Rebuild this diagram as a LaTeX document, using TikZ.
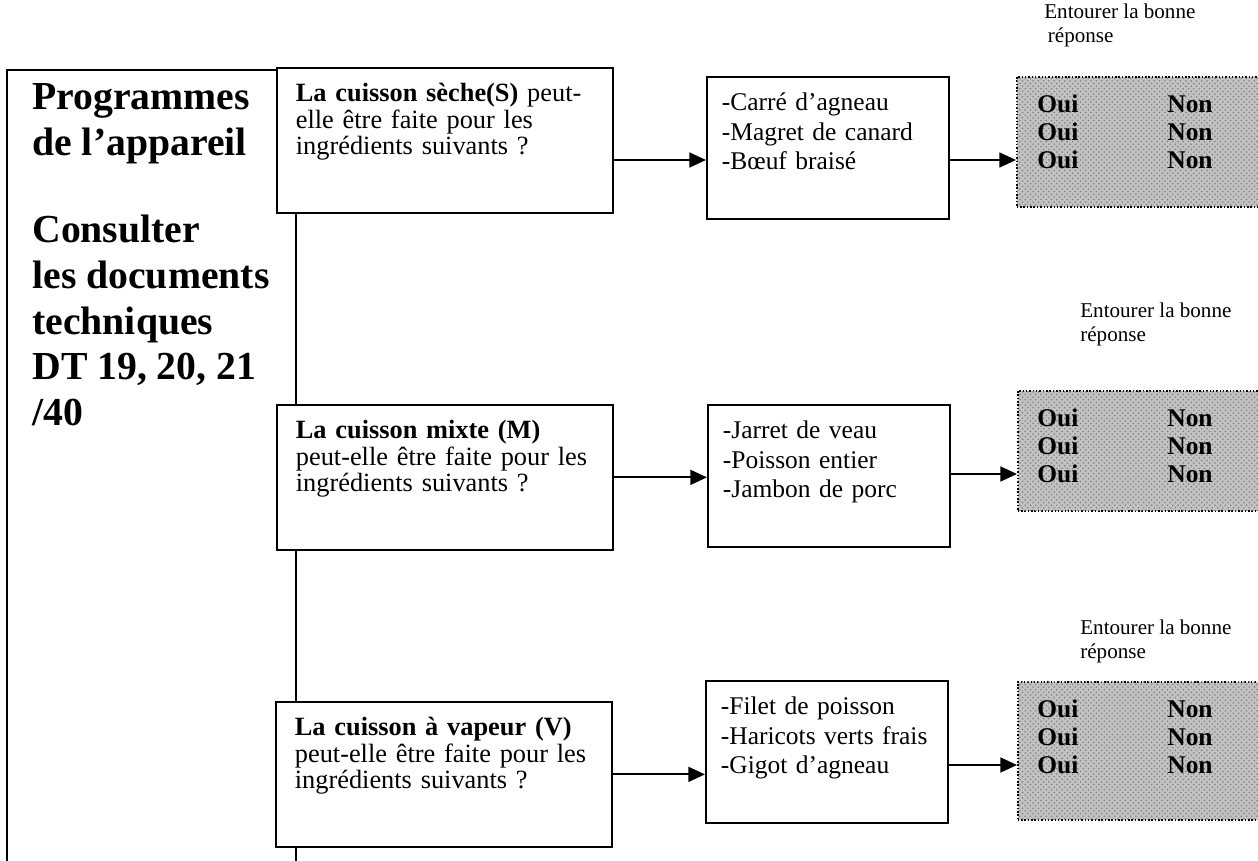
\documentclass[tikz,border=0pt]{standalone}
\usepackage{fontspec}
\setmainfont{Liberation Serif}
\usetikzlibrary{arrows.meta}
\usetikzlibrary{patterns}

\begin{document}
\begin{tikzpicture}[x=0.02cm, y=-0.02cm,
	frame/.style={line width=0.8pt},
	qbox/.style={draw, line width=1pt, fill=white, anchor=north west, align=left,
		inner xsep=0.38cm, inner ysep=0pt, text width=5.96cm,
		text height=0.68cm, text depth=2.22cm, font=\fontsize{15}{15}\selectfont},
	lbox/.style={draw, line width=1pt, fill=white, anchor=north west, align=left,
		inner xsep=0.3cm, inner ysep=0pt, text width=4.24cm,
		text height=0.68cm, text depth=2.16cm, font=\fontsize{14.5}{16.8}\selectfont},
	abox/.style={draw, densely dotted, line width=0.9pt, fill=black!24,
		postaction={pattern=crosshatch dots, pattern color=black!50},
		anchor=north west, minimum width=4.84cm, minimum height=2.6cm, inner sep=0pt},
	hint/.style={anchor=north west, align=left, inner sep=0pt, font=\fontsize{12}{13.5}\selectfont},
	yesno/.style={anchor=west, inner sep=0pt, font=\fontsize{14.5}{16}\selectfont\bfseries},
	arr/.style={line width=1.1pt, -{Triangle[length=9.5pt,width=8.5pt]}}]
	\useasboundingbox (0,0) rectangle (1258,861);

	\draw[frame] (7,861) -- (7,70) -- (296,70) -- (296,861);
	\node[anchor=north west, align=left, inner sep=0pt,
		font=\fontsize{22.6}{26}\selectfont\bfseries] (title) at (32,83)
		{Programmes\\de l’appareil\\[24pt]Consulter\\les documents\\techniques\\DT 19, 20, 21\\/40};

	\node[qbox] (q1) at (276,67) {\textbf{La cuisson sèche(S)} peut-\\elle être faite pour les\\ingrédients suivants~?};
	\node[qbox] (q2) at (276,404) {\textbf{La cuisson mixte (M)}\\peut-elle être faite pour les\\ingrédients suivants~?};
	\node[qbox] (q3) at (275,701) {\textbf{La cuisson à vapeur (V)}\\peut-elle être faite pour les\\ingrédients suivants~?};

	\node[lbox] (l1) at (706,76) {-Carré d’agneau\\-Magret de canard\\-Bœuf braisé};
	\node[lbox] (l2) at (707,404) {-Jarret de veau\\-Poisson entier\\-Jambon de porc};
	\node[lbox] (l3) at (705,680) {-Filet de poisson\\-Haricots verts frais\\-Gigot d’agneau};

	\node[abox] (a1) at (1016,76) {};
	\node[abox, minimum height=2.4cm] (a2) at (1017,390) {};
	\node[abox, minimum height=2.76cm] (a3) at (1017,681) {};

	\node[hint] (h1) at (1044,4) {Entourer la bonne\\\hspace{2pt}réponse};
	\node[hint] (h2) at (1080,303) {Entourer la bonne\\réponse};
	\node[hint] (h3) at (1080,620) {Entourer la bonne\\réponse};

	\foreach \a/\t in {a1/76, a2/390, a3/681}
		\foreach \k in {1,2,3} {
			\node[yesno] (\a oui\k) at (1037, {\t+28+28*(\k-1)}) {Oui};
			\node[yesno] (\a non\k) at (1167, {\t+28+28*(\k-1)}) {Non};
		}

	\draw[arr] (q1.east |- a1oui3) -- (l1.west |- a1oui3);
	\draw[arr] (q2.east) -- (q2.east -| l2.west);
	\draw[arr] (q3.east) -- (q3.east -| l3.west);
	\draw[arr] (l1.east |- a1oui3) -- (a1.west |- a1oui3);
	\draw[arr] (l2.east |- a2oui3) -- (a2.west |- a2oui3);
	\draw[arr] (l3.east |- a3oui3) -- (a3.west |- a3oui3);
\end{tikzpicture}
\end{document}
